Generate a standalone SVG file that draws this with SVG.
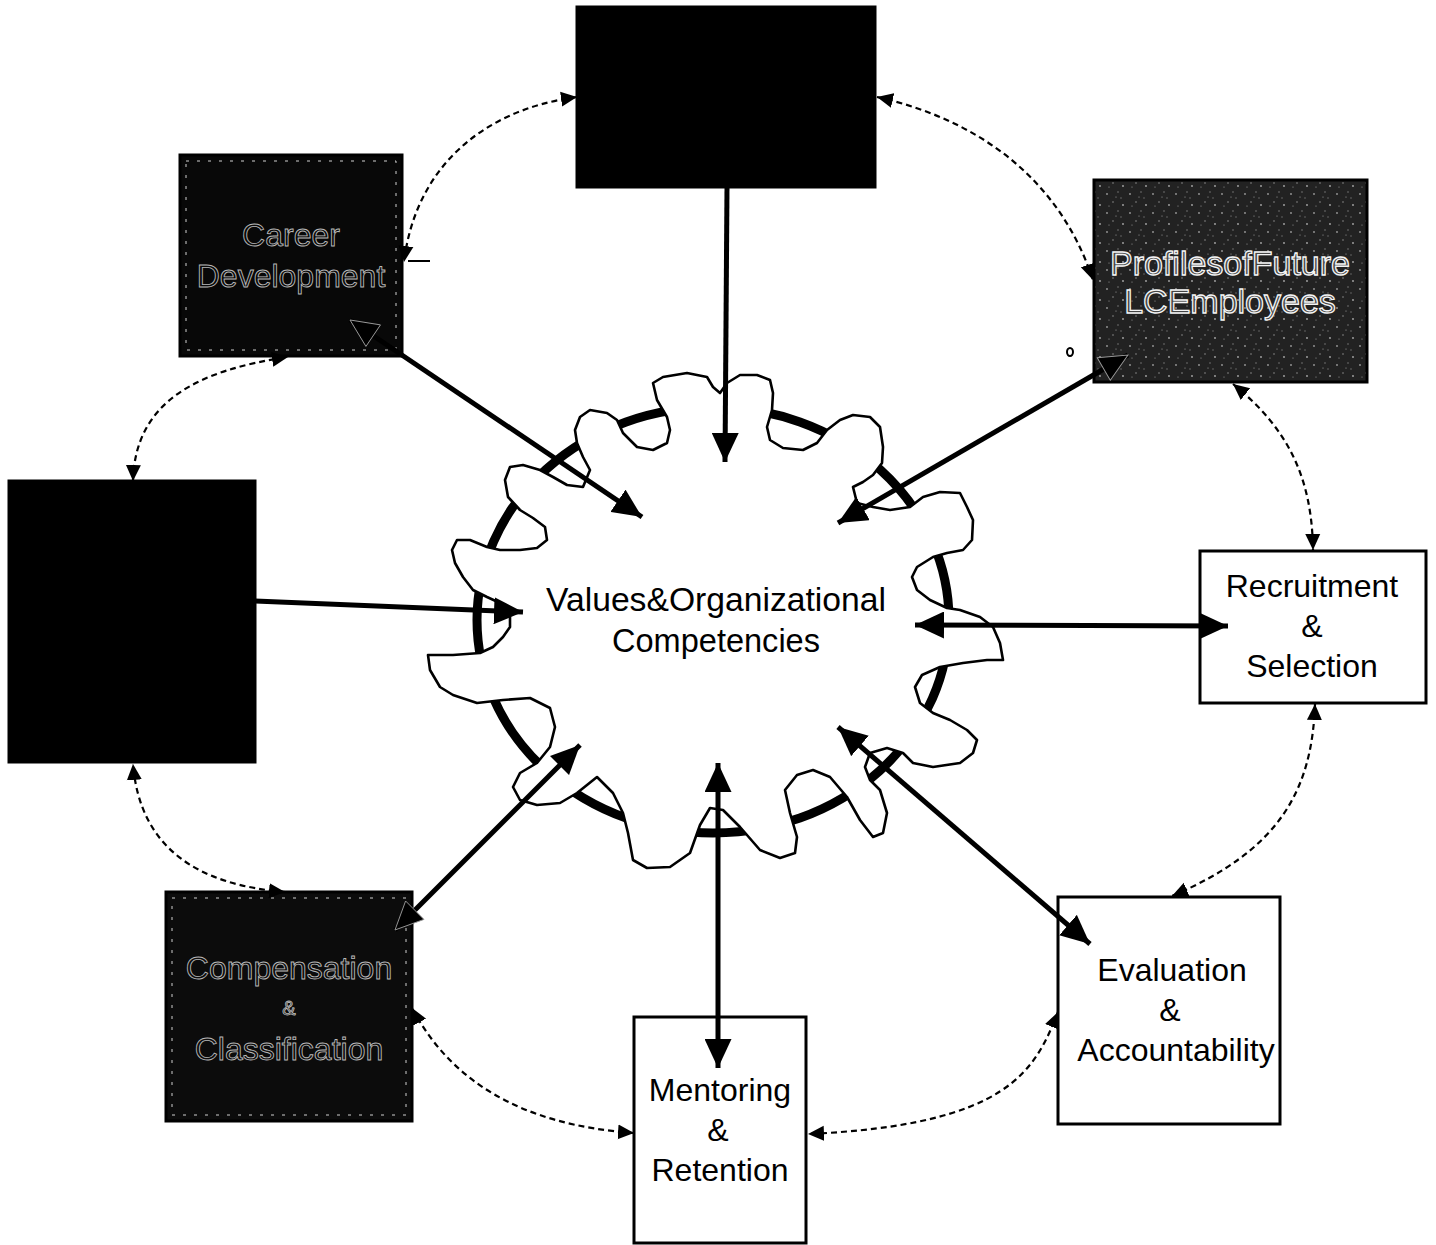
<svg xmlns="http://www.w3.org/2000/svg" width="1436" height="1245" viewBox="0 0 1436 1245">
<style>
.lbl{font-family:"Liberation Sans",Arial,sans-serif;font-size:32px;fill:#000;text-anchor:middle}
.ctr{font-family:"Liberation Sans",Arial,sans-serif;font-size:34px;fill:#000;text-anchor:middle}
.hol{font-family:"Liberation Sans",Arial,sans-serif;font-size:32px;fill:none;stroke:#b8b8b8;stroke-width:0.9;text-anchor:middle}
.hol2{font-family:"Liberation Sans",Arial,sans-serif;font-size:34px;fill:#444;stroke:#f4f4f4;stroke-width:1.3;text-anchor:middle}
.wbox{fill:#fff;stroke:#000;stroke-width:3}
.dbox{stroke:#000;stroke-width:3}
.inner{fill:none;stroke:#cfcfcf;stroke-width:1;stroke-dasharray:3 8}
.solid{fill:none;stroke:#000;stroke-width:5}
.dash{fill:none;stroke:#000;stroke-width:2.2;stroke-dasharray:6 4}
</style>
<defs>
<marker id="ah" markerUnits="userSpaceOnUse" markerWidth="31" markerHeight="27" refX="29" refY="13.5" orient="auto-start-reverse">
<path d="M0,0 L29,13.5 L0,27 Z" fill="#000"/>
</marker>
<marker id="ahd" markerUnits="userSpaceOnUse" markerWidth="32" markerHeight="28" refX="29" refY="14" orient="auto-start-reverse">
<path d="M1,1 L29,14 L1,27 Z" fill="#000" stroke="#9a9a9a" stroke-width="0.9"/>
</marker>
<marker id="sh" markerUnits="userSpaceOnUse" markerWidth="17" markerHeight="17" refX="16" refY="8.5" orient="auto-start-reverse">
<path d="M0,1 L16,8.5 L0,16 Z" fill="#000"/>
</marker>
<pattern id="speck" width="23" height="19" patternUnits="userSpaceOnUse">
<rect width="23" height="19" fill="#222"/>
<circle cx="3" cy="4" r="0.9" fill="#9a9a9a"/>
<circle cx="14" cy="2" r="0.7" fill="#888"/>
<circle cx="9" cy="12" r="0.8" fill="#8a8a8a"/>
<circle cx="19" cy="15" r="0.9" fill="#aaa"/>
<circle cx="17" cy="8" r="0.7" fill="#777"/>
<circle cx="5" cy="16" r="0.6" fill="#999"/>
<circle cx="12" cy="7" r="0.5" fill="#bbb"/>
</pattern>
</defs>

<g id="center">
<ellipse cx="713" cy="620" rx="236" ry="213" fill="none" stroke="#000" stroke-width="9"/>
<polygon fill="#fff" stroke="#000" stroke-width="2.6" stroke-linejoin="round" points="428,655 453,655 480,653 493,647 503,637 510,627 510,617 500,603 487,597 473,590 463,577 455,563 452,550 457,540 470,540 487,547 500,550 520,550 537,548 547,540 545,527 533,518 520,510 508,497 505,480 510,467 523,465 540,470 553,477 567,485 583,487 590,470 583,457 577,443 575,430 580,417 590,410 607,413 617,420 623,433 637,447 653,450 667,443 670,430 667,417 657,400 653,383 663,377 687,373 707,377 713,387 720,393 727,383 740,375 757,375 770,380 773,393 772,410 767,427 770,440 783,448 803,450 817,443 827,430 840,420 853,415 870,417 880,427 883,447 882,463 873,475 863,482 853,487 857,503 873,507 890,510 910,507 923,497 940,492 960,493 967,507 973,520 972,540 963,550 947,553 933,557 917,567 912,577 917,590 930,600 947,608 960,610 980,617 993,627 1000,643 1003,660 987,660 963,663 940,667 922,675 915,687 920,703 933,713 950,720 967,730 977,740 973,753 960,763 933,767 913,763 903,753 887,748 870,753 865,767 870,780 880,790 887,813 883,833 873,837 860,820 847,797 830,777 813,770 797,775 785,790 790,813 797,837 795,853 780,858 760,850 740,827 723,810 710,808 700,825 690,853 670,867 647,868 633,860 628,833 623,813 613,793 597,777 577,793 560,803 537,805 520,800 513,787 520,773 537,763 550,747 555,727 550,708 530,698 503,700 477,703 453,695 440,687 430,670"/>
<text class="ctr" x="716" y="611" textLength="340" lengthAdjust="spacingAndGlyphs">Values&amp;Organizational</text>
<text class="ctr" x="716" y="652" textLength="208" lengthAdjust="spacingAndGlyphs">Competencies</text>
</g>

<g id="top-box">
<rect class="dbox" x="577" y="7" width="298" height="180" fill="#000"/>
</g>

<g id="career-development">
<rect class="dbox" x="180" y="155" width="222" height="201" fill="#080808"/>
<rect class="inner" x="186" y="161" width="210" height="189"/>
<text class="hol" x="291" y="246">Career</text>
<text class="hol" x="291" y="287">Development</text>
</g>

<g id="profiles">
<rect class="dbox" x="1094" y="180" width="273" height="202" fill="url(#speck)"/>
<text class="hol2" x="1230" y="275">ProfilesofFuture</text>
<text class="hol2" x="1230" y="313">LCEmployees</text>
</g>

<g id="left-box">
<rect class="dbox" x="9" y="481" width="246" height="281" fill="#000"/>
</g>

<g id="compensation">
<rect class="dbox" x="166" y="892" width="246" height="229" fill="#0c0c0c"/>
<rect class="inner" x="172" y="898" width="234" height="217"/>
<text class="hol" x="289" y="979">Compensation</text>
<text class="hol" x="289" y="1015" style="font-size:20px">&amp;</text>
<text class="hol" x="289" y="1060">Classification</text>
</g>

<g id="recruitment">
<rect class="wbox" x="1200" y="551" width="226" height="152"/>
<text class="lbl" x="1312" y="597">Recruitment</text>
<text class="lbl" x="1312" y="637">&amp;</text>
<text class="lbl" x="1312" y="677">Selection</text>
</g>

<g id="evaluation">
<rect class="wbox" x="1058" y="897" width="222" height="227"/>
<text class="lbl" x="1172" y="981">Evaluation</text>
<text class="lbl" x="1170" y="1021">&amp;</text>
<text class="lbl" x="1176" y="1061">Accountability</text>
</g>

<g id="mentoring">
<rect class="wbox" x="634" y="1017" width="172" height="226"/>
<text class="lbl" x="720" y="1101">Mentoring</text>
<text class="lbl" x="718" y="1141">&amp;</text>
<text class="lbl" x="720" y="1181">Retention</text>
</g>

<g id="connectors">
<line class="solid" x1="727" y1="187" x2="725" y2="462" marker-end="url(#ah)"/>
<line class="solid" x1="350" y1="320" x2="642" y2="517" marker-start="url(#ahd)" marker-end="url(#ah)"/>
<line class="solid" x1="1128" y1="355" x2="838" y2="523" marker-start="url(#ahd)" marker-end="url(#ah)"/>
<line class="solid" x1="255" y1="601" x2="523" y2="612" marker-end="url(#ah)"/>
<line class="solid" x1="915" y1="625" x2="1228" y2="626" marker-start="url(#ah)" marker-end="url(#ah)"/>
<line class="solid" x1="838" y1="727" x2="1090" y2="944" marker-start="url(#ah)" marker-end="url(#ah)"/>
<line class="solid" x1="718" y1="763" x2="718" y2="1068" marker-start="url(#ah)" marker-end="url(#ah)"/>
<line class="solid" x1="395" y1="930" x2="580" y2="745" marker-start="url(#ahd)" marker-end="url(#ah)"/>

<path class="dash" d="M577,97 C480,110 415,170 404,262" marker-start="url(#sh)" marker-end="url(#sh)"/>
<path class="dash" d="M877,97 C980,120 1060,180 1093,280" marker-start="url(#sh)" marker-end="url(#sh)"/>
<path class="dash" d="M1233,384 C1290,430 1312,480 1313,550" marker-start="url(#sh)" marker-end="url(#sh)"/>
<path class="dash" d="M1315,704 C1312,790 1280,850 1172,896" marker-start="url(#sh)" marker-end="url(#sh)"/>
<path class="dash" d="M1058,1012 C1035,1070 1010,1125 808,1134" marker-start="url(#sh)" marker-end="url(#sh)"/>
<path class="dash" d="M634,1133 C520,1125 450,1080 412,1008" marker-start="url(#sh)" marker-end="url(#sh)"/>
<path class="dash" d="M285,892 C200,885 140,850 133,764" marker-start="url(#sh)" marker-end="url(#sh)"/>
<path class="dash" d="M133,481 C135,400 200,370 288,357" marker-start="url(#sh)" marker-end="url(#sh)"/>
<line x1="408" y1="261" x2="430" y2="261" stroke="#000" stroke-width="2"/>
<ellipse cx="1070" cy="352" rx="3" ry="4" fill="none" stroke="#000" stroke-width="2"/>
</g>
</svg>
